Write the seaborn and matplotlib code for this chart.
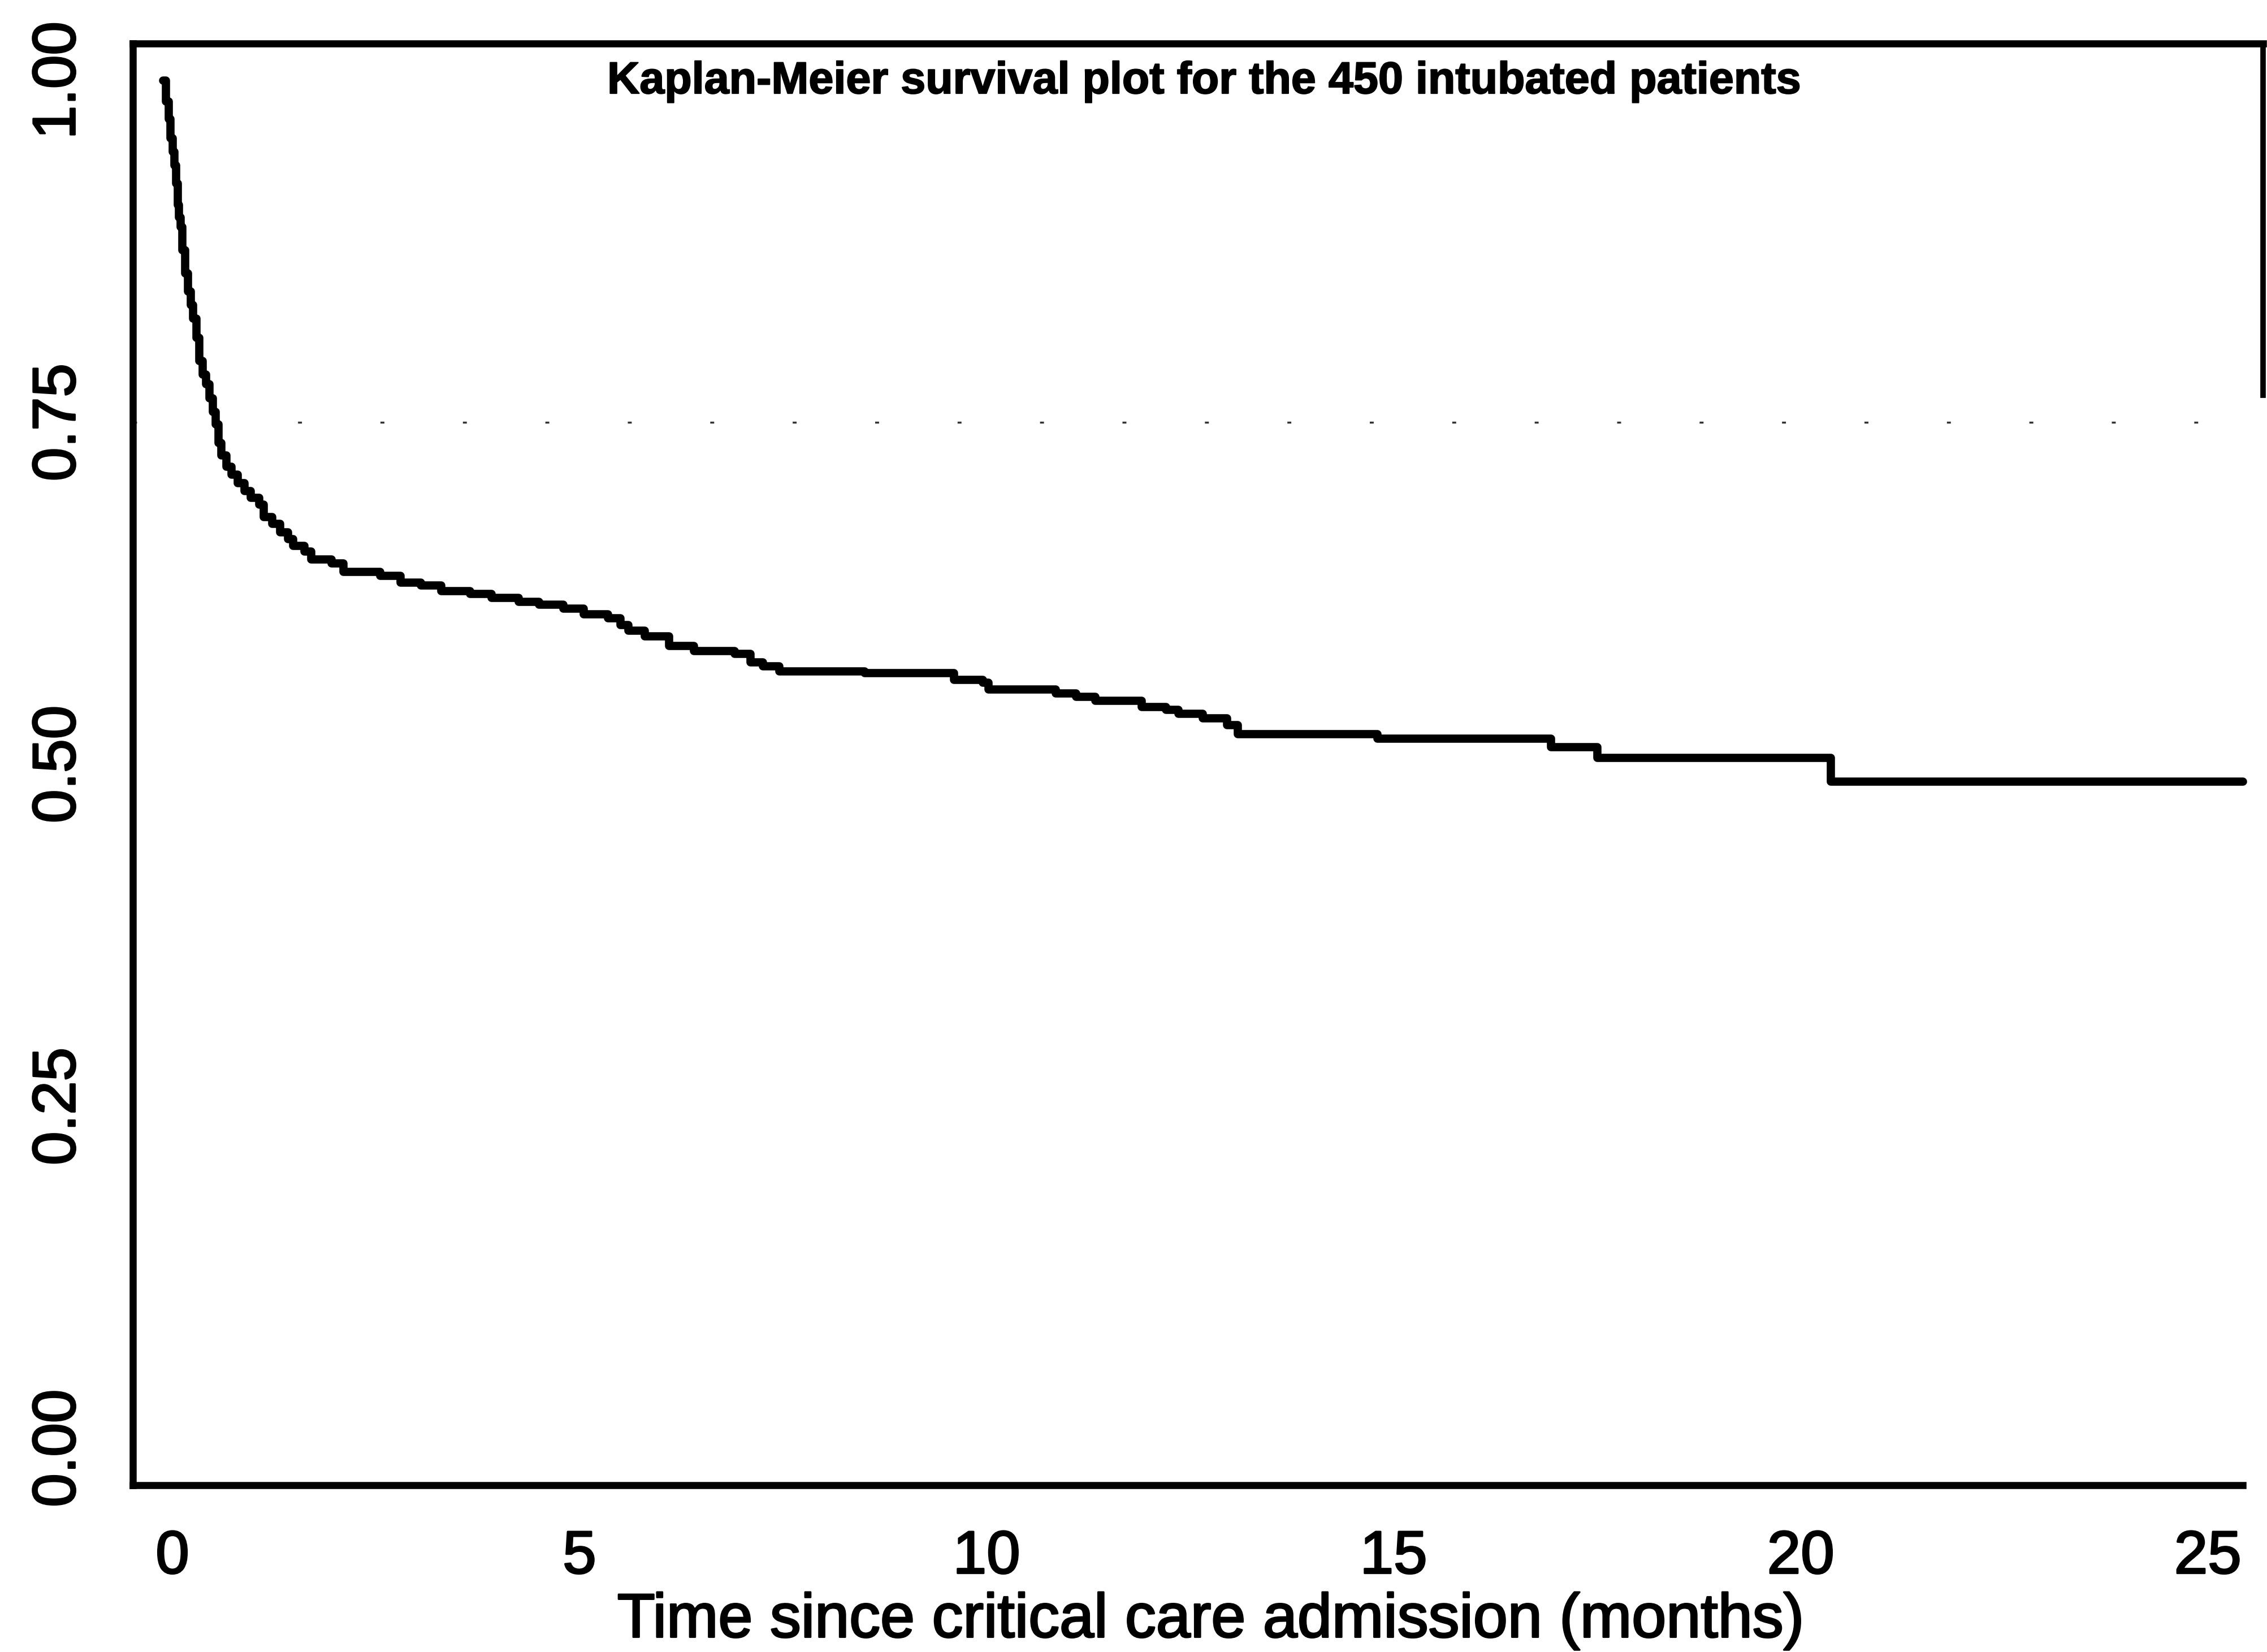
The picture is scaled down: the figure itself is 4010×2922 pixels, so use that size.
import matplotlib
matplotlib.use("Agg")
import matplotlib.pyplot as plt
from matplotlib import font_manager
import matplotlib.patheffects as pe
import seaborn as sns
import pandas as pd

# ---- data (Kaplan-Meier step function) ----
time_months = [-0.12, -0.08, -0.05, -0.03, 0.00, 0.02, 0.04, 0.06, 0.08, 0.10,
               0.12, 0.15, 0.19, 0.22, 0.25, 0.29, 0.33, 0.37, 0.41, 0.45,
               0.49, 0.53, 0.56, 0.60, 0.66, 0.72, 0.80, 0.88, 0.96, 1.06,
               1.12, 1.22, 1.32, 1.42, 1.48, 1.62, 1.70, 1.95, 2.10, 2.55,
               2.80, 3.05, 3.30, 3.65, 3.92, 4.25, 4.50, 4.80, 5.05, 5.35,
               5.50, 5.60, 5.80, 6.10, 6.40, 6.90, 7.10, 7.25, 7.45, 8.50,
               9.60, 9.95, 10.02, 10.85, 11.10, 11.33, 11.90, 12.20, 12.35, 12.65,
               12.95, 13.08, 14.80, 16.93, 17.50, 20.37, 25.43]
survival = [1.000, 0.985, 0.972, 0.958, 0.948, 0.938, 0.925, 0.909, 0.900, 0.893,
            0.876, 0.859, 0.846, 0.836, 0.826, 0.812, 0.795, 0.785, 0.778, 0.768,
            0.758, 0.749, 0.735, 0.726, 0.718, 0.712, 0.706, 0.700, 0.695, 0.690,
            0.681, 0.676, 0.670, 0.665, 0.660, 0.656, 0.650, 0.647, 0.641, 0.638,
            0.633, 0.631, 0.627, 0.625, 0.622, 0.619, 0.617, 0.614, 0.610, 0.607,
            0.602, 0.598, 0.594, 0.587, 0.583, 0.581, 0.575, 0.572, 0.568, 0.567,
            0.562, 0.560, 0.555, 0.552, 0.5496, 0.5467, 0.542, 0.540, 0.537, 0.534,
            0.529, 0.5223, 0.519, 0.513, 0.505, 0.4876, 0.4876]
x_ticks = [0, 5, 10, 15, 20, 25]
y_ticks = [0.00, 0.25, 0.50, 0.75, 1.00]
y_tick_labels = ["0.00", "0.25", "0.50", "0.75", "1.00"]
reference_level = 0.75
title_text = "Kaplan-Meier survival plot for the 450 intubated patients"
x_label = "Time since critical care admission (months)"

# ---- style ----
sns.set_theme(style="white")
names = {f.name for f in font_manager.fontManager.ttflist}
if "Liberation Sans Narrow" in names:
    fam = ["Liberation Sans Narrow", "DejaVu Sans"]
    fs_tick, fs_lab, fs_title = 84, 84, 66
else:
    fam = ["Liberation Sans", "DejaVu Sans"]
    fs_tick, fs_lab, fs_title = 77, 79, 57
plt.rcParams["font.family"] = fam
plt.rcParams["axes.edgecolor"] = "black"

thick = [pe.withStroke(linewidth=2.2, foreground="black")]

fig = plt.figure(figsize=(40.10, 29.22), dpi=100)
fig.patch.set_facecolor("white")
ax = fig.add_axes([0.0586, 0.1010, 0.9397, 0.8726])

df = pd.DataFrame({"t": time_months, "s": survival})
sns.lineplot(data=df, x="t", y="s", ax=ax, drawstyle="steps-post",
             estimator=None, sort=False, color="black", linewidth=10.5)

ax.axhline(reference_level, color="black", linewidth=2.5,
           dashes=(2, 40), alpha=0.8)

ax.set_xlim(-0.486, 25.68)
ax.set_ylim(-0.0269, 1.0269)
ax.set_xticks(x_ticks)
ax.set_xticklabels([str(v) for v in x_ticks], fontsize=fs_tick)
ax.set_yticks(y_ticks)
ax.set_yticklabels(y_tick_labels, fontsize=fs_tick, rotation=90, va="center")
ax.tick_params(axis="both", direction="out", length=32, width=3.6,
               color="black", labelcolor="black")
ax.tick_params(axis="x", pad=24)
ax.tick_params(axis="y", pad=26)
for lbl in ax.get_xticklabels() + ax.get_yticklabels():
    lbl.set_path_effects(thick)

for side in ["left", "top", "bottom", "right"]:
    ax.spines[side].set_linewidth(9)
    ax.spines[side].set_color("black")
ax.spines["right"].set_linewidth(7)
ax.spines["bottom"].set_bounds(-0.486, 25.43)
ax.spines["right"].set_bounds(0.77, 1.0269)

ax.set_xlabel(x_label, fontsize=fs_lab, color="black")
ax.xaxis.set_label_coords(0.506, -0.0744)
ax.xaxis.label.set_path_effects(thick)
ax.set_ylabel("")

ax.text(0.503, 0.9655, title_text, transform=ax.transAxes, ha="center",
        va="baseline", fontsize=fs_title, fontweight="bold", color="black",
        path_effects=[pe.withStroke(linewidth=1.5, foreground="black")])

fig.savefig("out.png", dpi=100, facecolor="white")
